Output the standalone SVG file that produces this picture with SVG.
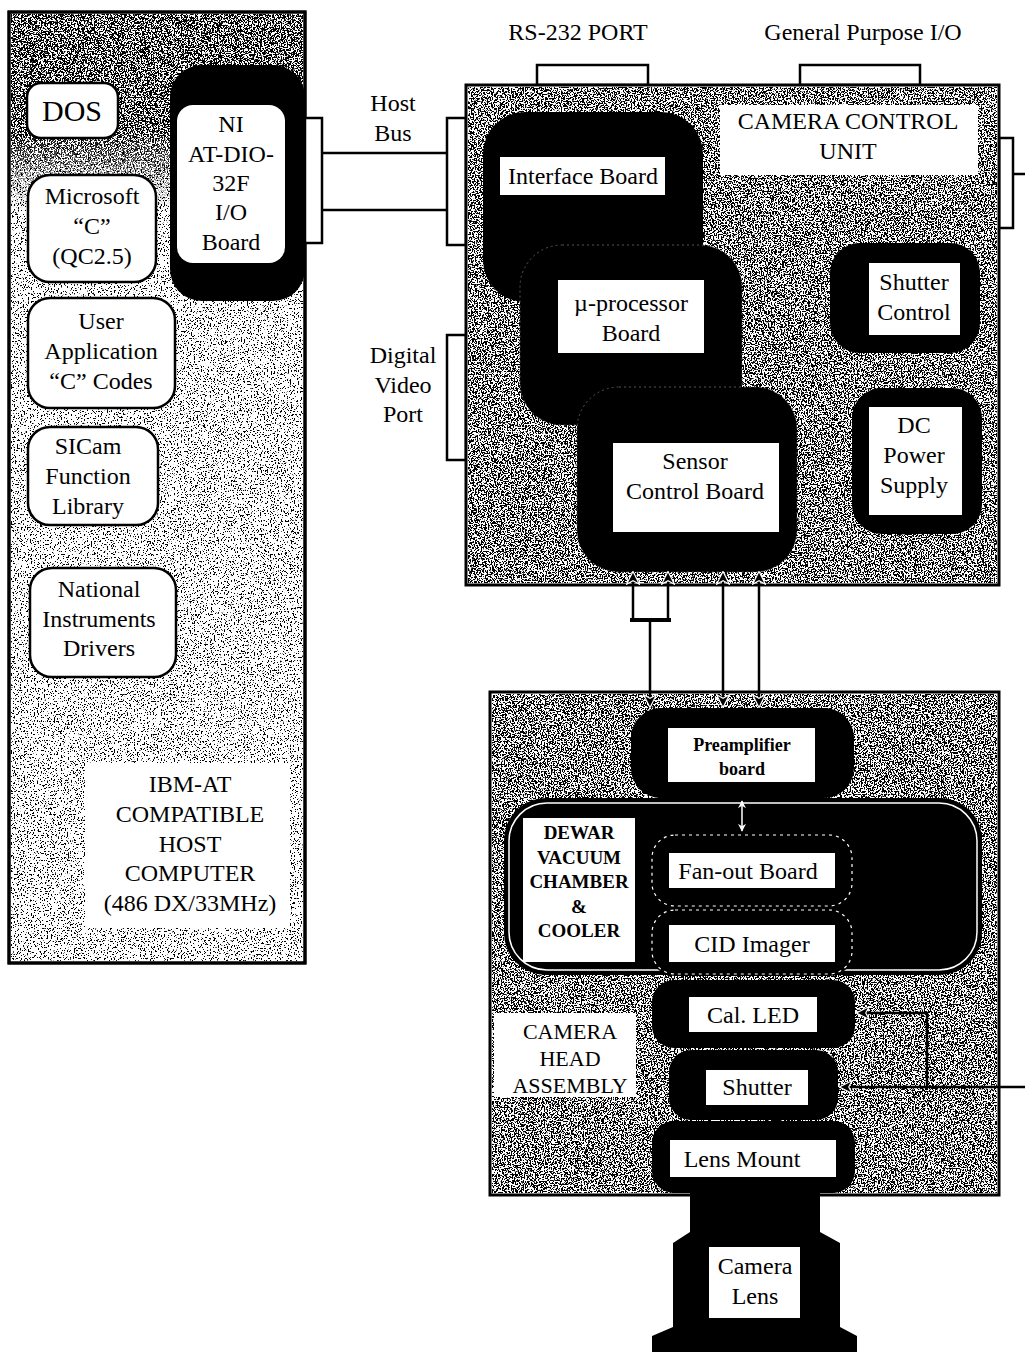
<svg xmlns="http://www.w3.org/2000/svg" width="1025" height="1352" viewBox="0 0 1025 1352">
<style>
.t{font-family:"Liberation Serif","Times New Roman",serif;font-size:24px;text-anchor:middle;fill:#000}
.s18{font-size:18px;font-weight:bold}
.s19{font-size:19px;font-weight:bold}
.s22{font-size:22px}
.box{fill:#fff;stroke:#000;stroke-width:2.5}
.frame{fill:#fff;stroke:#000;stroke-width:3}
.blk{fill:#000}
.wl{fill:#fff}
.ln{stroke:#000;stroke-width:2.5;fill:none}
.dash{fill:none;stroke:#fff;stroke-width:1.2;stroke-dasharray:3 4}
</style>
<defs>
<filter id="dotsD" x="0" y="0" width="1" height="1" color-interpolation-filters="sRGB">
<feTurbulence type="fractalNoise" baseFrequency="0.7" numOctaves="2" seed="4" result="n"/>
<feColorMatrix in="n" type="matrix" values="0 0 0 0 0 0 0 0 0 0 0 0 0 0 0 -30 0 0 0 15.3" result="d"/>
<feComposite in="d" in2="SourceAlpha" operator="in"/>
</filter>
<filter id="dotsL" x="0" y="0" width="1" height="1" color-interpolation-filters="sRGB">
<feTurbulence type="fractalNoise" baseFrequency="0.7" numOctaves="2" seed="9" result="n"/>
<feColorMatrix in="n" type="matrix" values="0 0 0 0 0 0 0 0 0 0 0 0 0 0 0 -30 0 0 0 12" result="d"/>
<feComposite in="d" in2="SourceAlpha" operator="in"/>
</filter>
<linearGradient id="fade" x1="0" y1="0" x2="0" y2="1">
<stop offset="0" stop-color="#fff"/><stop offset="0.6" stop-color="#fff"/><stop offset="1" stop-color="#000"/>
</linearGradient>
<mask id="topMask"><rect x="9" y="12" width="296" height="200" fill="url(#fade)"/></mask>
<marker id="ah" viewBox="0 0 12 12" refX="11" refY="6" markerWidth="14" markerHeight="14" markerUnits="userSpaceOnUse" orient="auto-start-reverse"><path d="M0.5,0.5 L11.5,6 L0.5,11.5 L3.5,6 z" fill="#000" stroke="#fff" stroke-width="1"/></marker>
<marker id="ahw" viewBox="0 0 10 10" refX="9" refY="5" markerWidth="8" markerHeight="8" markerUnits="userSpaceOnUse" orient="auto-start-reverse"><path d="M0,0 L10,5 L0,10 L3,5 z" fill="#fff"/></marker>
</defs>

<!-- HOST COMPUTER -->
<g id="host">
<rect class="frame" x="9" y="12" width="296" height="951"/>
<rect x="11" y="14" width="292" height="947" fill="#000" filter="url(#dotsL)"/>
<rect x="11" y="14" width="292" height="200" fill="#000" filter="url(#dotsD)" mask="url(#topMask)"/>
<rect x="9" y="12" width="296" height="951" fill="none" stroke="#000" stroke-width="3"/>
<rect class="wl" x="85" y="763" width="205" height="165"/>
<text class="t" x="190" y="792">IBM-AT</text>
<text class="t" x="190" y="822">COMPATIBLE</text>
<text class="t" x="190" y="852">HOST</text>
<text class="t" x="190" y="881">COMPUTER</text>
<text class="t" x="190" y="911">(486 DX/33MHz)</text>
</g>
<g id="dos">
<rect class="box" x="27" y="83" width="91" height="55" rx="14"/>
<text class="t" x="72" y="121" style="font-size:30px">DOS</text>
</g>
<g id="msc">
<rect class="box" x="28" y="175" width="128" height="107" rx="22"/>
<text class="t" x="92" y="204">Microsoft</text>
<text class="t" x="92" y="234">“C”</text>
<text class="t" x="92" y="264">(QC2.5)</text>
</g>
<g id="userapp">
<rect class="box" x="28" y="298" width="147" height="110" rx="22"/>
<text class="t" x="101" y="329">User</text>
<text class="t" x="101" y="359">Application</text>
<text class="t" x="101" y="389">“C” Codes</text>
</g>
<g id="sicam">
<rect class="box" x="28" y="427" width="130" height="98" rx="22"/>
<text class="t" x="88" y="454">SICam</text>
<text class="t" x="88" y="484">Function</text>
<text class="t" x="88" y="514">Library</text>
</g>
<g id="nidrv">
<rect class="box" x="30" y="568" width="146" height="109" rx="22"/>
<text class="t" x="99" y="597">National</text>
<text class="t" x="99" y="627">Instruments</text>
<text class="t" x="99" y="656">Drivers</text>
</g>
<g id="niboard">
<rect class="blk" x="170" y="65" width="135" height="236" rx="32"/>
<rect class="wl" x="177" y="105" width="108" height="158" rx="16"/>
<text class="t" x="231" y="132">NI</text>
<text class="t" x="231" y="162">AT-DIO-</text>
<text class="t" x="231" y="191">32F</text>
<text class="t" x="231" y="220">I/O</text>
<text class="t" x="231" y="250">Board</text>
</g>

<!-- CAMERA CONTROL UNIT -->
<g id="ccu">
<rect class="box" x="537" y="65" width="111" height="20"/>
<rect class="box" x="800" y="65" width="120" height="20"/>
<rect class="box" x="447" y="118" width="19" height="127"/>
<rect class="box" x="447" y="335" width="19" height="125"/>
<rect class="box" x="999" y="138" width="14" height="90"/>
<rect class="frame" x="466" y="85" width="533" height="500"/>
<rect x="468" y="87" width="529" height="496" fill="#000" filter="url(#dotsD)"/>
<rect class="wl" x="720" y="105" width="258" height="70"/>
<text class="t" x="848" y="129">CAMERA CONTROL</text>
<text class="t" x="848" y="159">UNIT</text>
<text class="t" x="578" y="40">RS-232 PORT</text>
<text class="t" x="863" y="40">General Purpose I/O</text>
<text class="t" x="393" y="111">Host</text>
<text class="t" x="393" y="141">Bus</text>
<text class="t" x="403" y="363">Digital</text>
<text class="t" x="403" y="393">Video</text>
<text class="t" x="403" y="422">Port</text>
</g>
<g id="interface">
<rect class="blk" x="483" y="112" width="220" height="190" rx="42"/>
<rect class="wl" x="500" y="157" width="165" height="38"/>
<text class="t" x="583" y="184">Interface Board</text>
</g>
<g id="uproc">
<rect class="blk" x="520" y="245" width="222" height="180" rx="42" stroke="#555" stroke-width="1" stroke-dasharray="2 3"/>
<rect class="wl" x="558" y="280" width="146" height="73"/>
<text class="t" x="631" y="311">µ-processor</text>
<text class="t" x="631" y="341">Board</text>
</g>
<g id="sensor">
<rect class="blk" x="577" y="387" width="220" height="185" rx="42" stroke="#555" stroke-width="1" stroke-dasharray="2 3"/>
<rect class="wl" x="613" y="443" width="166" height="89"/>
<text class="t" x="695" y="469">Sensor</text>
<text class="t" x="695" y="499">Control Board</text>
</g>
<g id="shutterctl">
<rect class="blk" x="830" y="243" width="150" height="110" rx="30"/>
<rect class="wl" x="869" y="263" width="91" height="72"/>
<text class="t" x="914" y="290">Shutter</text>
<text class="t" x="914" y="320">Control</text>
</g>
<g id="dcpower">
<rect class="blk" x="852" y="388" width="130" height="146" rx="30"/>
<rect class="wl" x="869" y="407" width="93" height="108"/>
<text class="t" x="914" y="433">DC</text>
<text class="t" x="914" y="463">Power</text>
<text class="t" x="914" y="493">Supply</text>
</g>

<!-- CAMERA HEAD -->
<g id="head">
<rect class="frame" x="490" y="692" width="509" height="503"/>
<rect x="492" y="694" width="505" height="499" fill="#000" filter="url(#dotsD)"/>
<rect class="wl" x="494" y="1013" width="142" height="84"/>
<text class="t s22" x="570" y="1039">CAMERA</text>
<text class="t s22" x="570" y="1066">HEAD</text>
<text class="t s22" x="570" y="1093">ASSEMBLY</text>
</g>
<g id="dewar">
<rect class="blk" x="504" y="798" width="478" height="177" rx="42"/>
<rect x="509" y="803" width="468" height="167" rx="38" fill="none" stroke="#fff" stroke-width="1.5"/>
<rect class="wl" x="523" y="818" width="112" height="144"/>
<text class="t s19" x="579" y="839">DEWAR</text>
<text class="t s19" x="579" y="864">VACUUM</text>
<text class="t s19" x="579" y="888">CHAMBER</text>
<text class="t s19" x="579" y="913">&amp;</text>
<text class="t s19" x="579" y="937">COOLER</text>
</g>
<g id="preamp">
<rect class="blk" x="631" y="708" width="223" height="90" rx="30"/>
<rect class="wl" x="668" y="728" width="147" height="54"/>
<text class="t s18" x="742" y="751">Preamplifier</text>
<text class="t s18" x="742" y="775">board</text>
</g>
<g id="fanout">
<rect class="blk" x="650" y="833" width="204" height="75" rx="25"/>
<rect class="dash" x="652" y="835" width="200" height="71" rx="23"/>
<rect class="wl" x="669" y="853" width="166" height="35"/>
<text class="t" x="748" y="879">Fan-out Board</text>
</g>
<g id="cid">
<rect class="blk" x="650" y="908" width="204" height="68" rx="25"/>
<rect class="dash" x="652" y="910" width="200" height="64" rx="23"/>
<rect class="wl" x="669" y="925" width="166" height="37"/>
<text class="t" x="752" y="952">CID Imager</text>
</g>
<g id="called">
<rect class="blk" x="652" y="980" width="203" height="68" rx="22"/>
<rect class="wl" x="689" y="997" width="128" height="35"/>
<text class="t" x="753" y="1023">Cal. LED</text>
</g>
<g id="shutter">
<rect class="blk" x="669" y="1050" width="169" height="70" rx="22"/>
<rect class="wl" x="706" y="1070" width="102" height="35"/>
<text class="t" x="757" y="1095">Shutter</text>
</g>
<g id="lensmount">
<rect class="blk" x="652" y="1121" width="203" height="72" rx="22"/>
<rect class="wl" x="670" y="1140" width="166" height="37"/>
<text class="t" x="742" y="1167">Lens Mount</text>
</g>
<g id="lens">
<polygon class="blk" points="690,1190 820,1190 820,1232 840,1243 840,1327 857,1336 857,1352 652,1352 652,1336 673,1327 673,1243 690,1232"/>
<rect class="wl" x="709" y="1247" width="91" height="71"/>
<text class="t" x="755" y="1274">Camera</text>
<text class="t" x="755" y="1304">Lens</text>
</g>

<!-- CONNECTORS -->
<g id="connectors">
<rect class="box" x="305" y="118" width="17" height="125"/>
<line class="ln" x1="322" y1="153" x2="447" y2="153"/>
<line class="ln" x1="322" y1="210" x2="447" y2="210"/>
<line class="ln" x1="1013" y1="174" x2="1025" y2="174"/>
<line class="ln" x1="633" y1="620" x2="633" y2="572" marker-end="url(#ah)"/>
<line class="ln" x1="668" y1="620" x2="668" y2="572" marker-end="url(#ah)"/>
<line x1="630" y1="620" x2="671" y2="620" stroke="#000" stroke-width="4"/>
<line class="ln" x1="650" y1="620" x2="650" y2="707" marker-end="url(#ah)"/>
<line class="ln" x1="723" y1="572" x2="723" y2="707" marker-start="url(#ah)" marker-end="url(#ah)"/>
<line class="ln" x1="759" y1="572" x2="759" y2="707" marker-start="url(#ah)" marker-end="url(#ah)"/>
<line x1="742" y1="801" x2="742" y2="831" stroke="#fff" stroke-width="1.5" marker-start="url(#ahw)" marker-end="url(#ahw)"/>
<polyline class="ln" points="1025,1087 840,1087" marker-end="url(#ah)"/>
<polyline class="ln" points="927,1087 927,1013 857,1013" marker-end="url(#ah)"/>
</g>
</svg>
